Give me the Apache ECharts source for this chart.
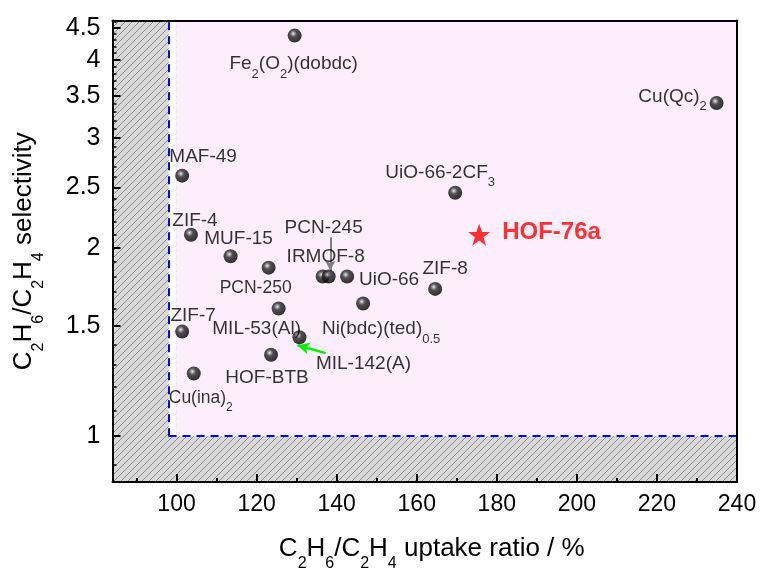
<!DOCTYPE html>
<html><head><meta charset="utf-8">
<script src="https://cdn.jsdelivr.net/npm/echarts@6/dist/echarts.min.js"></script>
<style>html,body{margin:0;padding:0;background:#fff}#c{width:762px;height:573px}</style>
</head><body><div id="c"></div>
<script>
// ---------------- data ----------------
const names = ['Fe_{2}(O_{2})(dobdc)', 'Cu(Qc)_{2}', 'MAF-49', 'UiO-66-2CF_{3}', 'ZIF-4', 'MUF-15', 'PCN-250',
  'IRMOF-8', 'PCN-245', 'UiO-66', 'ZIF-8', 'Ni(bdc)(ted)_{0.5}', 'MIL-53(Al)', 'ZIF-7', 'MIL-142(A)', 'HOF-BTB', 'Cu(ina)_{2}'];
const uptakeRatio = [129.5, 234.9, 101.4, 169.6, 103.6, 113.5, 123.0, 136.5, 138.0, 142.6, 164.6, 146.6, 125.5, 101.4, 130.7, 123.6, 104.3];
const selectivity = [4.37, 3.41, 2.61, 2.45, 2.10, 1.94, 1.86, 1.80, 1.80, 1.80, 1.72, 1.63, 1.60, 1.47, 1.44, 1.35, 1.26];
const hofName = 'HOF-76a';
const hofUptake = [175.6];
const hofSelectivity = [2.10];
const xTicks = [100, 120, 140, 160, 180, 200, 220, 240];
const xMinorTicks = [90, 110, 130, 150, 170, 190, 210, 230];
const yTicks = [1, 1.5, 2, 2.5, 3, 3.5, 4, 4.5];
const yMinorTicks = [0.9, 1.1, 1.2, 1.3, 1.4, 1.6, 1.7, 1.8, 1.9, 2.1, 2.2, 2.3, 2.4, 2.6, 2.7, 2.8, 2.9,
  3.1, 3.2, 3.3, 3.4, 3.6, 3.7, 3.8, 3.9, 4.1, 4.2, 4.3, 4.4, 4.6];
const cutoffUptake = 98, cutoffSelectivity = 1, pinkStartUptake = 100;
const xMin = 84, xMax = 240, yMin = 0.845, yMax = 4.62;
// arrows: [from x, from y, to x, to y]
const arrowPCN245 = [138.4, 2.08, 138.4, 1.84];
const arrowMIL142 = [137.2, 1.358, 130.2, 1.398];

// ---------------- layout / style ----------------
const FONT = 'Liberation Sans, Arial, sans-serif';
const smallLabels = { 'PCN-250': 1, 'Cu(ina)_{2}': 1 };
const labelOffsets = {
  'Fe_{2}(O_{2})(dobdc)': [-1, 31], 'Cu(Qc)_{2}': [-44, -4], 'MAF-49': [21, -16], 'UiO-66-2CF_{3}': [-15, -18],
  'ZIF-4': [4, -11], 'MUF-15': [8, -15], 'PCN-250': [-13, 23], 'IRMOF-8': [3, -17], 'PCN-245': [-5, -46],
  'UiO-66': [42, 6], 'ZIF-8': [10, -18], 'Ni(bdc)(ted)_{0.5}': [18, 28], 'MIL-53(Al)': [-22, 23],
  'ZIF-7': [11, -13], 'MIL-142(A)': [64, 29], 'HOF-BTB': [-4, 26], 'Cu(ina)_{2}': [7, 27]
};
function toRich(s, small) {
  const n = small ? 'm' : 'n', sub = small ? 't' : 's';
  return '{' + n + '|' + s.replace(/_\{([^}]*)\}/g, '}{' + sub + '|$1}{' + n + '|') + '}';
}

const hatch = document.createElement('canvas');
hatch.width = 7; hatch.height = 7;
(function () {
  const g = hatch.getContext('2d');
  g.fillStyle = '#d8d8d8'; g.fillRect(0, 0, 7, 7);
  g.strokeStyle = '#858585'; g.lineWidth = 0.9;
  g.beginPath();
  g.moveTo(-1, 8); g.lineTo(8, -1);
  g.moveTo(-1, 1); g.lineTo(1, -1);
  g.moveTo(6, 8); g.lineTo(8, 6);
  g.stroke();
})();
const hatchFill = { image: hatch, repeat: 'repeat' };

const sphere = {
  type: 'radial', x: 0.4, y: 0.36, r: 0.62,
  colorStops: [{ offset: 0, color: '#f4f4f4' }, { offset: 0.14, color: '#9a9a9a' }, { offset: 0.4, color: '#262626' }, { offset: 1, color: '#000' }]
};

const labelRich = {
  n: { fontSize: 19, fontFamily: FONT, color: '#000', lineHeight: 24, verticalAlign: 'top' },
  s: { fontSize: 13, fontFamily: FONT, color: '#000', lineHeight: 13, verticalAlign: 'top', padding: [13, 0, 0, 0] },
  m: { fontSize: 17.5, fontFamily: FONT, color: '#000', lineHeight: 22, verticalAlign: 'top' },
  t: { fontSize: 12, fontFamily: FONT, color: '#000', lineHeight: 12, verticalAlign: 'top', padding: [12, 0, 0, 0] }
};
const titleRich = {
  n: { fontSize: 26, fontFamily: FONT, color: '#000', lineHeight: 30, verticalAlign: 'top' },
  s: { fontSize: 16, fontFamily: FONT, color: '#000', lineHeight: 16, verticalAlign: 'top', padding: [20, 0, 0, 0] }
};

const mofData = names.map((nm, i) => ({
  name: nm,
  value: [uptakeRatio[i], selectivity[i]],
  label: { offset: labelOffsets[nm] || [0, -20], formatter: toRich(nm, !!smallLabels[nm]) }
}));

function ls(w) { return { color: '#000', width: w }; }
const xTickFont = { fontSize: 23, fontFamily: FONT, color: '#000' };
const yTickFont = { fontSize: 25, fontFamily: FONT, color: '#000' };
const option = {
  animation: false,
  backgroundColor: '#fff',
  grid: { left: 112.5, right: 25, top: 20.5, bottom: 91, outerBoundsMode: 'none', z: -5,
    show: true, borderWidth: 0, backgroundColor: hatchFill },
  xAxis: [
    {
      type: 'value', min: xMin, max: xMax, position: 'bottom', z: 10,
      axisLine: { show: true, onZero: false, lineStyle: ls(2) },
      axisTick: { show: true, inside: true, length: 8, customValues: xTicks, lineStyle: ls(2) },
      axisLabel: Object.assign({ customValues: xTicks, margin: 11 }, xTickFont),
      splitLine: { show: false },
      name: toRich('C_{2}H_{6}/C_{2}H_{4} uptake ratio / %', false),
      nameLocation: 'middle', nameGap: 54,
      nameTextStyle: { rich: titleRich, padding: [0, 0, 0, 14] }
    },
    {
      type: 'value', min: xMin, max: xMax, position: 'top', z: 10,
      axisLine: { show: true, onZero: false, lineStyle: ls(2) },
      axisTick: { show: false }, axisLabel: { show: false }, splitLine: { show: false }
    },
    {
      type: 'value', min: xMin, max: xMax, position: 'bottom', z: 10,
      axisLine: { show: false },
      axisTick: { show: true, inside: true, length: 4, customValues: xMinorTicks, lineStyle: ls(2) },
      axisLabel: { show: false }, splitLine: { show: false }
    }
  ],
  yAxis: [
    {
      type: 'log', logBase: 10, min: yMin, max: yMax, position: 'left', z: 10,
      axisLine: { show: true, onZero: false, lineStyle: ls(2) },
      axisTick: { show: true, inside: true, length: 8, customValues: yTicks, lineStyle: ls(2) },
      axisLabel: Object.assign({ customValues: yTicks, margin: 12,
        formatter: v => String(Math.round(v * 10) / 10) }, yTickFont),
      splitLine: { show: false },
      name: toRich('C_{2}H_{6}/C_{2}H_{4} selectivity', false),
      nameLocation: 'middle', nameGap: 72, nameRotate: 90,
      nameTextStyle: { rich: titleRich }
    },
    {
      type: 'log', logBase: 10, min: yMin, max: yMax, position: 'right', z: 10,
      axisLine: { show: true, onZero: false, lineStyle: ls(2) },
      axisTick: { show: false }, axisLabel: { show: false }, splitLine: { show: false }
    },
    {
      type: 'log', logBase: 10, min: yMin, max: yMax, position: 'left', z: 10,
      axisLine: { show: false },
      axisTick: { show: true, inside: true, length: 4, customValues: yMinorTicks, lineStyle: ls(1.5) },
      axisLabel: { show: false }, splitLine: { show: false }
    }
  ],
  series: [
    {
      type: 'scatter', name: 'MOFs', xAxisIndex: 0, yAxisIndex: 0,
      symbol: 'circle', symbolSize: 14,
      itemStyle: { color: sphere },
      label: { show: true, position: 'inside', align: 'center', verticalAlign: 'middle', rich: labelRich },
      data: mofData,
      z: 5,
      markArea: {
        silent: true,
        data: [
          [{ xAxis: cutoffUptake, yAxis: cutoffSelectivity, itemStyle: { color: '#ffffff' } }, { xAxis: pinkStartUptake, yAxis: yMax }],
          [{ xAxis: pinkStartUptake, yAxis: cutoffSelectivity, itemStyle: { color: '#fdeefd' } }, { xAxis: xMax, yAxis: yMax }]
        ]
      },
      markLine: {
        silent: true, animation: false,
        symbol: ['none', 'none'],
        label: { show: false },
        lineStyle: { color: '#0000ff', width: 2, type: [8, 6] },
        data: [
          [{ coord: [cutoffUptake, cutoffSelectivity] }, { coord: [cutoffUptake, yMax] }],
          [{ coord: [cutoffUptake, cutoffSelectivity] }, { coord: [xMax, cutoffSelectivity] }],
          [{ coord: [arrowPCN245[0], arrowPCN245[1]], symbol: 'none', lineStyle: { color: '#808080', width: 2, type: 'solid' } },
           { coord: [arrowPCN245[2], arrowPCN245[3]], symbol: 'arrow', symbolSize: [8, 10] }],
          [{ coord: [arrowMIL142[0], arrowMIL142[1]], symbol: 'none', lineStyle: { color: '#00ee00', width: 2.5, type: 'solid' } },
           { coord: [arrowMIL142[2], arrowMIL142[3]], symbol: 'arrow', symbolSize: [9, 12] }]
        ]
      }
    },
    {
      type: 'scatter', name: hofName, xAxisIndex: 0, yAxisIndex: 0,
      symbol: 'path://M12,0 L14.9,8.3 L23.4,8.3 L16.5,13.4 L19.1,21.7 L12,16.6 L4.9,21.7 L7.5,13.4 L0.6,8.3 L9.1,8.3 Z',
      symbolSize: 22,
      itemStyle: { color: '#ff0000' },
      label: { show: true, position: 'right', distance: 12, formatter: hofName,
        fontSize: 24, fontWeight: 'bold', fontFamily: FONT, color: '#ff0000', offset: [0, -2] },
      data: hofUptake.map((x, i) => [x, hofSelectivity[i]]),
      z: 6
    }
  ]
};
echarts.init(document.getElementById('c'), null, { renderer: 'canvas' }).setOption(option);
</script>
</body></html>
